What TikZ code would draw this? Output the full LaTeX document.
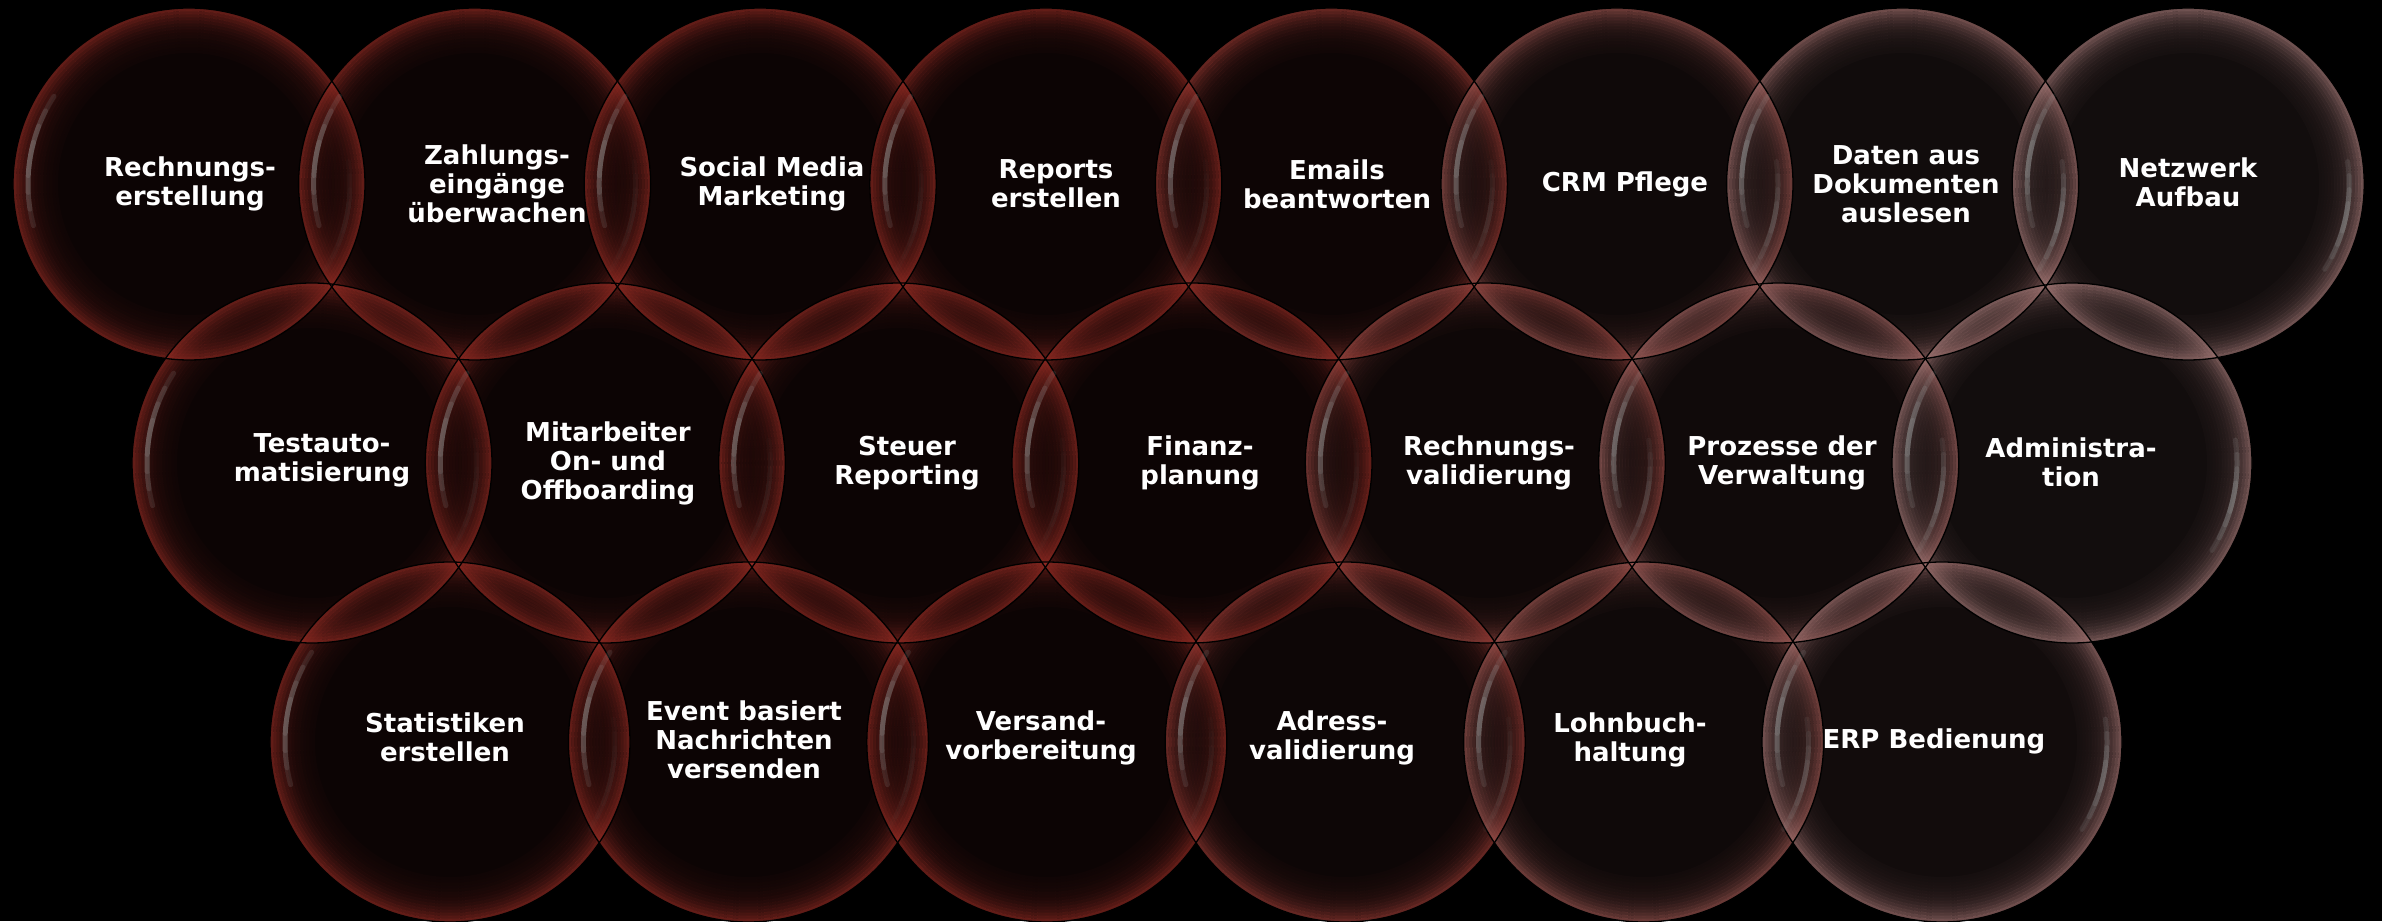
\documentclass[tikz,border=0pt]{standalone}
\usepackage{fontspec}
\setmainfont{DejaVu Sans}
\definecolor{rimred}{RGB}{150,44,36}
\definecolor{rimpink}{RGB}{168,124,122}
\definecolor{inred}{RGB}{12,4,4}
\definecolor{inpink}{RGB}{18,13,13}
\definecolor{hlcol}{RGB}{210,224,224}
\tikzset{
  lbl/.style={text=white, font=\bfseries\fontsize{26}{29}\selectfont, align=center, inner sep=0pt},
  outline/.style={draw=black, line width=1.3pt},
}
\begin{document}
\begin{tikzpicture}[x=1pt,y=1pt]
\useasboundingbox (0,0) rectangle (2382,921);
\fill[black] (0,0) rectangle (2382,921);
\def\circlelist{%
189/737/176/0/c11, 474.6/737/176/0/c12, 760.2/737/176/0/c13, 1045.8/737/176/0/c14,
1331.4/737/176/16/c15, 1617/737/176/52/c16, 1902.6/737/176/88/c17, 2188.2/737/176/100/c18,
312/458/180/0/c21, 605.3/458/180/0/c22, 898.7/458/180/0/c23, 1192/458/180/0/c24,
1485.3/458/180/36/c25, 1778.7/458/180/72/c26, 2072/458/180/100/c27,
450/179/180/0/c31, 748.4/179/180/0/c32, 1046.8/179/180/0/c33, 1345.2/179/180/18/c34,
1643.6/179/180/55/c35, 1942/179/180/93/c36}
% centres
\foreach \x/\y/\r/\t/\n in \circlelist { \coordinate (\n) at (\x,\y); }
% dark interiors
\foreach \x/\y/\r/\t/\n in \circlelist {
  \colorlet{inc}{inpink!\t!inred}
  \fill[inc] (\n) circle[radius=\r pt];
}
% glowing rims
\foreach \x/\y/\r/\t/\n in \circlelist {
  \colorlet{rimc}{rimpink!\t!rimred}
  \foreach \d/\o in {1.5/0.62,4.5/0.52,7.5/0.43,10.5/0.35,13.5/0.29,16.5/0.23,19.5/0.19,22.5/0.15,25.5/0.12,28.5/0.10,31.5/0.08,34.5/0.064,37.5/0.05,40.5/0.04,43.5/0.03} {
    \draw[rimc, line width=3.05pt, opacity=\o] (\n) circle[radius={(\r-\d)*1pt}];
  }
}
% thin dark outlines
\foreach \x/\y/\r/\t/\n in \circlelist {
  \draw[outline] (\n) circle[radius=\r pt];
}
% highlights
\foreach \x/\y/\r/\t/\n in \circlelist {
  \pgfmathsetmacro\ro{\r-15}
  \foreach \s in {6,12,18,24} {
    \draw[hlcol, line width=5pt, line cap=round, opacity=0.1]
      ([shift={(171-\s:\ro pt)}]\n) arc[start angle=171-\s, end angle=171+\s, radius=\ro pt];
  }
  \pgfmathsetmacro\ho{0.015+0.085*\t/100}
  \foreach \s in {5,10,15,20} {
    \draw[hlcol, line width=5pt, line cap=round, opacity=\ho]
      ([shift={(-12-\s:\ro pt)}]\n) arc[start angle=-12-\s, end angle=-12+\s, radius=\ro pt];
  }
}
% labels
\node[lbl] (t11) at (190,737) {Rechnungs-\\erstellung};
\node[lbl] (t12) at (497,737) {Zahlungs-\\eingänge\\überwachen};
\node[lbl] (t13) at (772,737) {Social Media\\Marketing};
\node[lbl] (t14) at (1056,737) {Reports\\erstellen};
\node[lbl] (t15) at (1337,737) {Emails\\beantworten};
\node[lbl] (t16) at (1625,737) {CRM Pflege};
\node[lbl] (t17) at (1906,737) {Daten aus\\Dokumenten\\auslesen};
\node[lbl] (t18) at (2188,739) {Netzwerk\\Aufbau};
\node[lbl] (t21) at (322,461) {Testauto-\\matisierung};
\node[lbl] (t22) at (608,458) {Mitarbeiter\\On- und\\Offboarding};
\node[lbl] (t23) at (907,458) {Steuer\\Reporting};
\node[lbl] (t24) at (1200,458) {Finanz-\\planung};
\node[lbl] (t25) at (1489,458) {Rechnungs-\\validierung};
\node[lbl] (t26) at (1782,458) {Prozesse der\\Verwaltung};
\node[lbl] (t27) at (2071,459) {Administra-\\tion};
\node[lbl] (t31) at (445,184) {Statistiken\\erstellen};
\node[lbl] (t32) at (744,181) {Event basiert\\Nachrichten\\versenden};
\node[lbl] (t33) at (1041,183) {Versand-\\vorbereitung};
\node[lbl] (t34) at (1332,183) {Adress-\\validierung};
\node[lbl] (t35) at (1630,181) {Lohnbuch-\\haltung};
\node[lbl] (t36) at (1934,180) {ERP Bedienung};
\end{tikzpicture}
\end{document}
